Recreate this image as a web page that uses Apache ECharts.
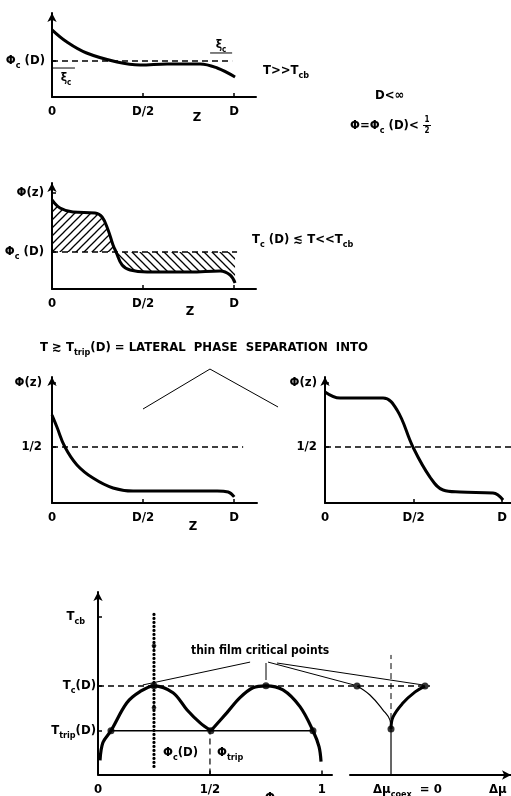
<!DOCTYPE html>
<html><head><meta charset="utf-8">
<script src="https://cdn.jsdelivr.net/npm/echarts@6/dist/echarts.min.js"></script>
<style>html,body{margin:0;padding:0;background:#fff}#c{width:511px;height:796px}</style>
</head><body><div id="c"></div>
<script>
// ---------- DATA ----------
// Panel 1 : T >> Tcb
const p1X = [0, 0.082, 0.19, 0.357, 0.484, 0.632, 0.813, 0.907, 1.005];
const p1Y = [0.80, 0.655, 0.524, 0.417, 0.381, 0.393, 0.393, 0.345, 0.238];
const p1PhiC = 0.43;
const p1XiLeft = [[0.005, 0.345], [0.126, 0.345]];
const p1XiRight = [[0.868, 0.524], [0.989, 0.524]];
// Panel 2 : Tc(D) <= T << Tcb
const p2X = [0, 0.044, 0.115, 0.236, 0.275, 0.308, 0.335, 0.352, 0.385, 0.429, 0.522, 0.758, 0.923, 0.978, 1.005];
const p2Y = [0.840, 0.764, 0.726, 0.717, 0.679, 0.557, 0.415, 0.349, 0.226, 0.179, 0.160, 0.160, 0.170, 0.132, 0.057];
const p2PhiC = 0.349;
const p2CrossIdx = 7;
// Panel 3a / 3b : lateral phase separation
const p3aX = [0, 0.027, 0.071, 0.137, 0.225, 0.335, 0.445, 0.632, 0.907, 0.967, 1.0];
const p3aY = [0.698, 0.603, 0.444, 0.302, 0.198, 0.119, 0.095, 0.095, 0.095, 0.087, 0.048];
const p3bX = [0, 0.085, 0.328, 0.407, 0.497, 0.593, 0.667, 0.763, 0.949, 1.006];
const p3bY = [0.881, 0.833, 0.833, 0.738, 0.444, 0.206, 0.103, 0.087, 0.079, 0.024];
const half = 0.444;
const bracket = [[0.5, 0.746], [0.868, 1.063], [1.242, 0.762]];
// Bottom phase diagram (phi, T)
const Tcb = 0.863, TcD = 0.486, Ttrip = 0.24;
const lobeLX = [0.009, 0.022, 0.058, 0.129, 0.1875, 0.25, 0.335, 0.397, 0.455, 0.504];
const lobeLY = [0.077, 0.175, 0.24, 0.393, 0.454, 0.486, 0.448, 0.355, 0.284, 0.24];
const lobeRX = [0.504, 0.576, 0.634, 0.692, 0.75, 0.826, 0.902, 0.96, 0.987, 0.996];
const lobeRY = [0.24, 0.339, 0.421, 0.475, 0.486, 0.464, 0.372, 0.24, 0.153, 0.071];
const phaseDots = [[0.058, 0.24], [0.25, 0.486], [0.504, 0.24], [0.75, 0.486], [0.96, 0.24]];
const phiCLine = [[0.25, 0.044], [0.25, 0.891]];
const phiCArrows = [[0.25, 0.705], [0.25, 0.366]];
const leaders = [
  [[0.679, 0.617], [0.2, 0.492]],
  [[0.75, 0.612], [0.75, 0.519]],
  [[0.759, 0.617], [1.143, 0.492]],
  [[0.799, 0.612], [1.451, 0.492]]
];
// Delta-mu diagram
const muThinX = [-1, -0.62, -0.235, -0.03, 0];
const muThinY = [0.486, 0.437, 0.355, 0.30, 0.251];
const muThickX = [0, 0.06, 0.35, 0.71, 1];
const muThickY = [0.251, 0.317, 0.393, 0.454, 0.486];
const muDots = [[-1, 0.486], [0, 0.251], [1, 0.486]];

// ---------- HELPERS ----------
const F = 'DejaVu Sans Condensed';
const zip = (a, b) => a.map((x, i) => [x, b[i]]);
function rich(sz) {
  return {
    b: {fontFamily: F, fontWeight: 'bold', fontSize: sz, lineHeight: sz + 5, color: '#000'},
    s: {fontFamily: F, fontWeight: 'bold', fontSize: Math.round(sz * 0.7), lineHeight: 7, verticalAlign: 'bottom', color: '#000'},
    p: {width: 11}
  };
}
function hatch(dir) {
  const c = document.createElement('canvas'); c.width = c.height = 8;
  const g = c.getContext('2d'); g.strokeStyle = '#000'; g.lineWidth = 1.3; g.beginPath();
  if (dir > 0) { g.moveTo(-1, 9); g.lineTo(9, -1); g.moveTo(-5, 5); g.lineTo(5, -5); g.moveTo(3, 13); g.lineTo(13, 3); }
  else { g.moveTo(-1, -1); g.lineTo(9, 9); g.moveTo(-5, 3); g.lineTo(5, 13); g.moveTo(3, -5); g.lineTo(13, 5); }
  g.stroke(); return c;
}
const axLine = (arrow) => ({show: true, lineStyle: {color: '#000', width: 2}, symbol: arrow ? ['none', 'arrow'] : ['none', 'none'], symbolSize: [7, 9]});
function xAx(gi, max, vals, texts, extra) {
  return Object.assign({
    type: 'value', gridIndex: gi, min: 0, max: max,
    axisLine: axLine(false), splitLine: {show: false},
    axisTick: {show: true, inside: true, length: 4, customValues: vals.slice(1), lineStyle: {color: '#000', width: 1.5}},
    axisLabel: {customValues: vals, margin: 6, rich: rich(13),
      formatter: v => { const i = vals.findIndex(u => Math.abs(u - v) < 1e-6); return i < 0 ? '' : '{b|' + texts[i] + '}'; }}
  }, extra || {});
}
function yAx(gi, vals, texts, margin) {
  return {
    type: 'value', gridIndex: gi, min: 0, max: 1,
    axisLine: axLine(true), splitLine: {show: false},
    axisTick: {show: true, inside: true, length: 4, customValues: vals, lineStyle: {color: '#000', width: 1.5}},
    axisLabel: {customValues: vals, margin: margin, rich: rich(13),
      formatter: v => { const i = vals.findIndex(u => Math.abs(u - v) < 1e-6); return i < 0 ? '' : texts[i]; }}
  };
}
const hidden = (gi, max) => ({type: 'value', gridIndex: gi, min: 0, max: max, show: false});
function line(gi, data, w, opt) {
  return Object.assign({type: 'line', xAxisIndex: gi, yAxisIndex: gi, data: data, symbol: 'none',
    lineStyle: {color: '#000', width: w}, silent: true, animation: false}, opt || {});
}
const dashed = (gi, data, w, opt) => line(gi, data, w || 1.5, Object.assign({lineStyle: {color: '#000', width: w || 1.5, type: [6, 4]}}, opt || {}));
function txt(x, y, t, sz, align) {
  return {type: 'text', x: x, y: y, silent: true,
    style: {text: t, rich: rich(sz || 13), align: align || 'left', verticalAlign: 'middle', textAlign: align || 'left', textVerticalAlign: 'middle'}};
}

// ---------- OPTION ----------
const zTicks = [0, 0.5, 1], zText = ['0', 'D/2', 'D'];
const option = {
  backgroundColor: '#fff',
  animation: false,
  grid: [
    {left: 52, top: 13, width: 204, height: 84},
    {left: 52, top: 183, width: 204, height: 106},
    {left: 52, top: 377, width: 205, height: 126},
    {left: 325, top: 377, width: 186, height: 126},
    {left: 98, top: 592, width: 234, height: 183},
    {left: 350, top: 592, width: 161, height: 183},
    // overlay grids (same units as panel 3a and the phase diagram, wider extent)
    {left: 52, top: 364.4, width: 229.32, height: 138.6},
    {left: 98, top: 592, width: 331.97, height: 183}
  ],
  xAxis: [
    xAx(0, 1.12, zTicks, zText),
    xAx(1, 1.12, zTicks, zText),
    xAx(2, 1.125, zTicks, zText),
    xAx(3, 1.0508, zTicks, zText),
    xAx(4, 1.045, [0, 0.5, 1], ['0', '1/2', '1'], {}),
    {type: 'value', gridIndex: 5, min: -1.206, max: 3.529, axisLine: axLine(true), splitLine: {show: false}, axisTick: {show: false}, axisLabel: {show: false}},
    hidden(6, 1.26),
    hidden(7, 1.482)
  ],
  yAxis: [
    yAx(0, [p1PhiC], ['{b|Φ}{s|c}{b| (D)}'], 7),
    yAx(1, [0.906, p2PhiC], ['{b|Φ(z)}', '{b|Φ}{s|c}{b| (D)}'], 8),
    yAx(2, [0.952, half], ['{b|Φ(z)}', '{b|1/2}'], 10),
    yAx(3, [0.952, half], ['{b|Φ(z)}', '{b|1/2}'], 8),
    yAx(4, [Tcb, TcD, Ttrip], ['{b|T}{s|cb}{p|}', '{b|T}{s|c}{b|(D)}', '{b|T}{s|trip}{b|(D)}'], 2),
    {type: 'value', gridIndex: 5, min: 0, max: 1, show: false},
    hidden(6, 1.1),
    hidden(7, 1)
  ],
  series: [
    // panel 1
    line(0, zip(p1X, p1Y), 3, {smooth: 0.4}),
    dashed(0, [[0, p1PhiC], [0.989, p1PhiC]]),
    line(0, p1XiLeft, 1),
    line(0, p1XiRight, 1),
    // panel 2 hatching + curve
    line(1, zip(p2X, p2Y).slice(0, p2CrossIdx + 1), 0, {smooth: 0.4, lineStyle: {width: 0, opacity: 0},
      areaStyle: {origin: p2PhiC, opacity: 1, color: {image: hatch(1), repeat: 'repeat'}}}),
    line(1, zip(p2X, p2Y).slice(p2CrossIdx), 0, {smooth: 0.4, lineStyle: {width: 0, opacity: 0},
      areaStyle: {origin: p2PhiC, opacity: 1, color: {image: hatch(-1), repeat: 'repeat'}}}),
    line(1, zip(p2X, p2Y), 3, {smooth: 0.4}),
    dashed(1, [[0, p2PhiC], [1.016, p2PhiC]]),
    // panel 3a / 3b
    line(2, zip(p3aX, p3aY), 3, {smooth: 0.4}),
    dashed(2, [[0, half], [1.049, half]]),
    line(6, bracket, 1),
    line(3, zip(p3bX, p3bY), 3, {smooth: 0.4}),
    dashed(3, [[0, half], [1.06, half]]),
    // bottom phase diagram
    dashed(7, [[0, TcD], [1.482, TcD]], 1.4),
    line(4, [[0.058, Ttrip], [0.96, Ttrip]], 1.5),
    dashed(4, [[0.5, 0], [0.5, Ttrip]], 1.2),
    line(4, phiCLine, 3.2, {lineStyle: {color: '#000', width: 3.2, type: [0.1, 3.9], cap: 'round'}}),
    line(4, zip(lobeLX, lobeLY), 3.2, {smooth: 0.35}),
    line(4, zip(lobeRX, lobeRY), 3.2, {smooth: 0.35}),
    {type: 'scatter', xAxisIndex: 4, yAxisIndex: 4, data: phaseDots, symbol: 'circle', symbolSize: 7, itemStyle: {color: '#000'}, silent: true},
    {type: 'scatter', xAxisIndex: 4, yAxisIndex: 4, data: phiCArrows, symbol: 'diamond', symbolSize: [5, 8], itemStyle: {color: '#000'}, silent: true},
    ...leaders.map(l => line(7, l, 1)),
    // delta mu diagram
    line(5, zip(muThinX, muThinY), 1.2, {smooth: 0.4}),
    line(5, zip(muThickX, muThickY), 3, {smooth: 0.4}),
    line(5, [[0, 0], [0, muThinY[muThinY.length - 1]]], 1.2),
    dashed(5, [[0, muThinY[muThinY.length - 1]], [0, 0.656]], 1),
    {type: 'scatter', xAxisIndex: 5, yAxisIndex: 5, data: muDots, symbol: 'circle', symbolSize: 7, itemStyle: {color: '#000'}, silent: true}
  ],
  graphic: [
    txt(197, 118, '{b|Z}', 13, 'center'),
    txt(190, 312, '{b|Z}', 13, 'center'),
    txt(193, 527, '{b|Z}', 13, 'center'),
    txt(66, 78, '{b|ξ}{s|c}', 12, 'center'),
    txt(221, 45, '{b|ξ}{s|c}', 12, 'center'),
    txt(263, 71, '{b|T>>T}{s|cb}', 13),
    txt(375, 96, '{b|D<∞}', 13),
    txt(350, 126, '{b|Φ=Φ}{s|c}{b| (D)<}', 13),
    txt(427, 120, '{s|1}', 11, 'center'),
    {type: 'line', silent: true, shape: {x1: 423, y1: 125.5, x2: 431, y2: 125.5}, style: {stroke: '#000', lineWidth: 1}},
    txt(427, 131, '{s|2}', 11, 'center'),
    txt(252, 240, '{b|T}{s|c}{b| (D) ≲ T<<T}{s|cb}', 13),
    txt(40, 348, '{b|T ≳ T}{s|trip}{b|(D) = LATERAL  PHASE  SEPARATION  INTO}', 13),
    txt(191, 651, '{b|thin film critical points}', 12),
    txt(163, 753, '{b|Φ}{s|c}{b|(D)}', 13),
    txt(217, 753, '{b|Φ}{s|trip}', 13),
    txt(373, 790, '{b|Δμ}{s|coex}{b|  = 0}', 13),
    txt(489, 790, '{b|Δμ}', 13),
    txt(270, 798, '{b|Φ}', 13, 'center')
  ]
};
const chart = echarts.init(document.getElementById('c'), null, {renderer: 'canvas'});
chart.setOption(option);
</script></body></html>
